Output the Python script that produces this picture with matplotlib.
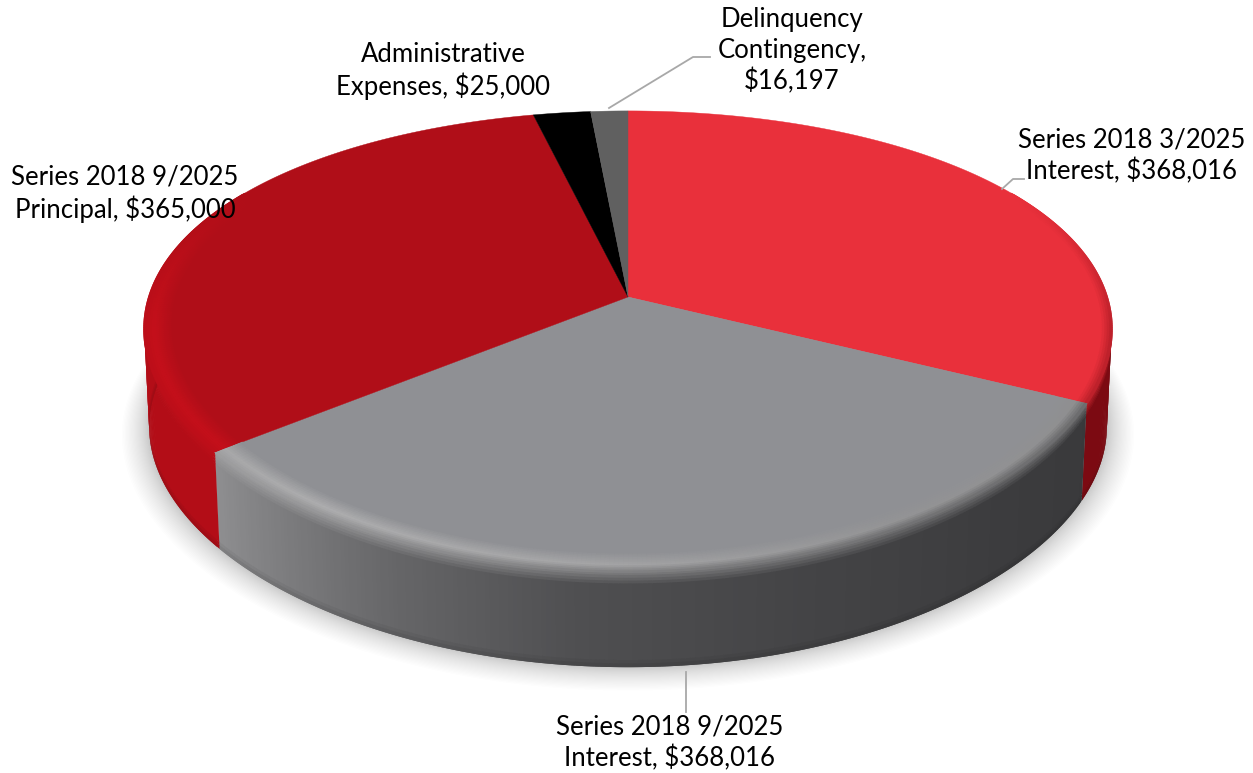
import numpy as np
import matplotlib
matplotlib.use('Agg')
import matplotlib.pyplot as plt
from matplotlib.collections import PolyCollection
from matplotlib.colors import to_rgb

labels = ['Series 2018 3/2025\nInterest, $368,016',
          'Series 2018 9/2025\nInterest, $368,016',
          'Series 2018 9/2025\nPrincipal, $365,000',
          'Administrative\nExpenses, $25,000',
          'Delinquency\nContingency,\n$16,197']
values = [368016, 368016, 365000, 25000, 16197]
top_colors = ['#e9303b', '#8f9094', '#b00e18', '#000000', '#606060']

W, H = 1253, 773
CX, CY = 628, 297
AX, BY = 479, 222
KX, KY = 0.14, 0.193
DEPTH = 98


def project(theta, r=1.0, z=0.0):
    # theta in degrees, clockwise from the back of the pie
    t = np.radians(theta)
    u, v = r * np.sin(t), r * np.cos(t)
    x = CX + AX * u / (1 + KX * v)
    y = CY - BY * v / (1 + KY * v) + z * DEPTH
    return np.column_stack([np.atleast_1d(x), np.atleast_1d(y)])


def rgb(c):
    return np.array(to_rgb(c))


def wall_color(th, slice_idx):
    if slice_idx == 0:
        return rgb('#7c0a12')
    if slice_idx == 1:
        g = np.interp(th, [116, 135, 160, 185, 205, 220, 232],
                      [0.225, 0.235, 0.265, 0.31, 0.40, 0.49, 0.56])
        return np.array([g, g, g + 0.008])
    return rgb('#b30d17')


def highlight(th, slice_idx, top):
    if slice_idx == 1:
        g = np.interp(th, [116, 150, 185, 215, 232], [0.56, 0.58, 0.65, 0.68, 0.66])
        return np.array([g, g, g + 0.005])
    if slice_idx == 2:
        return rgb('#c40f1a')
    return top


edges = np.concatenate([[0], np.cumsum(values)]) / np.sum(values) * 360

fig = plt.figure(figsize=(W / 100, H / 100), dpi=100)
ax = fig.add_axes([0, 0, 1, 1])
ax.set_xlim(0, W)
ax.set_ylim(H, 0)
ax.axis('off')

# soft shadow below the pie
ring = np.linspace(0, 360, 361)
n_shadow = 30
for i in range(n_shadow, 0, -1):
    q = (i / n_shadow) ** 1.6
    pts = project(ring, r=0.99 + 0.055 * q, z=1.0 + 0.05 * q)
    ax.fill(pts[:, 0], pts[:, 1], color='#555555', alpha=0.010, lw=0, zorder=1)

# side wall, each strip overlaps the next one so no seams show
zs = [0, 0.03, 0.06, 0.09, 0.12, 0.93, 0.965, 1.0]
quads, cols = [], []
for i in range(3):
    a0, a1 = edges[i], edges[i + 1]
    for th in np.arange(a0, a1, 0.5):
        th1 = min(th + 1.0, a1)
        if th1 < 60 or th > 300:
            continue
        wc = wall_color(th, i)
        start = (highlight(th, i, rgb(top_colors[i])) + wc) / 2
        for j in range(len(zs) - 1):
            z0, z1 = zs[j], zs[j + 1]
            if z0 < 0.12:
                c = start + (wc - start) * (z0 / 0.12)
            else:
                c = wc * (1 - 0.16 * max(0, z0 - 0.9) / 0.1)
            r0, r1 = 1 - 0.01 * z0, 1 - 0.01 * z1
            p = np.vstack([project(th, r0, z0), project(th1, r0, z0),
                           project(th1, r1, z1 + 0.005), project(th, r1, z1 + 0.005)])
            quads.append(p)
            cols.append(c)
ax.add_collection(PolyCollection(quads, facecolors=cols, edgecolors='none', linewidths=0, zorder=2))

# top of the pie
for i in range(len(values)):
    arc = np.linspace(edges[i], edges[i + 1], 200)
    pts = np.vstack([project(0, 0), project(arc)])
    ax.fill(pts[:, 0], pts[:, 1], color=top_colors[i], lw=0.3, zorder=3)

# bevel along the front rim
quads, cols = [], []
ss = np.linspace(0, 1, 13)
for i in range(3):
    top = rgb(top_colors[i])
    a0, a1 = edges[i], edges[i + 1]
    for th in np.arange(a0, a1, 0.5):
        th1 = min(th + 1.0, a1)
        if th1 < 60 or th > 300:
            continue
        fade = np.interp(th, [60, 98, 262, 300], [0, 1, 1, 0])
        hl = highlight(th, i, top)
        end = (hl + wall_color(th, i)) / 2
        for j in range(len(ss) - 1):
            s = ss[j]
            if s < 0.6:
                c = top + (hl - top) * (s / 0.6)
            else:
                c = hl + (end - hl) * ((s - 0.6) / 0.4)
            c = top + (c - top) * fade
            r0, r1 = 0.94 + 0.06 * ss[j], 0.94 + 0.06 * ss[j + 1]
            p = np.vstack([project(th, r0), project(th1, r0), project(th1, r1 + 0.002), project(th, r1 + 0.002)])
            quads.append(p)
            cols.append(c)
ax.add_collection(PolyCollection(quads, facecolors=cols, edgecolors='none', linewidths=0, zorder=4))

# leader lines
lc = '#a8a8a8'
ax.plot([609, 693, 710], [108, 57, 57], color=lc, lw=1.3, zorder=5)
ax.plot([1002, 1013, 1024], [189, 179, 179], color=lc, lw=1.3, zorder=5)
ax.plot([686, 686], [672, 712], color=lc, lw=1.3, zorder=5)

# labels
font = dict(family='Lato', fontsize=18.5, color='black', ha='center', va='center',
            linespacing=1.27, zorder=6)
ax.text(1132, 156, labels[0], **font)
ax.text(670, 743, labels[1], **font)
ax.text(125, 193.5, labels[2], **font)
ax.text(443, 71, labels[3], **font)
ax.text(792, 51, labels[4], **font)

fig.savefig('out.png', dpi=100)
